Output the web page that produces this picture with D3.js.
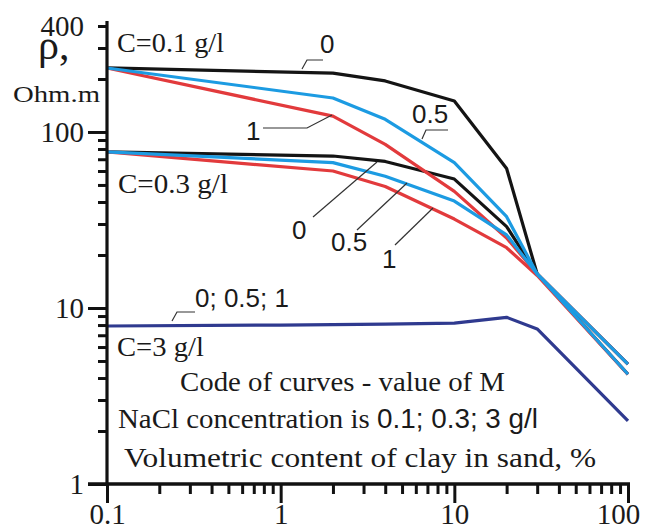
<!DOCTYPE html>
<html>
<head>
<meta charset="utf-8">
<script src="https://cdn.jsdelivr.net/npm/d3@7"></script>
<style>
  body { margin: 0; background: #fff; }
  svg { display: block; }
  .serif { font-family: "Liberation Serif", "Times New Roman", serif; fill: #1a1a1a; }
  .sans { font-family: "Liberation Sans", Arial, sans-serif; fill: #1a1a1a; }
</style>
</head>
<body>
<div id="chart"></div>
<script>
// clay content, % (x) and resistivity, Ohm.m (y)
var clayX = [0.1, 2, 4, 10, 20, 30, 100];

// C = 0.1 g/l
var c01_M0   = [231, 216, 195, 150, 62, 15.6, 4.8];
var c01_M05  = [231, 156, 118, 67, 33, 15.6, 4.8];
var c01_M1   = [231, 123, 85, 46, 25, 15.6, 4.8];

// C = 0.3 g/l
var c03_M0   = [77, 73, 68, 54, 29, 15.6, 4.2];
var c03_M05  = [77, 67, 56, 40.5, 26, 15.6, 4.2];
var c03_M1   = [77, 60, 49, 32, 22, 15.3, 4.2];

// C = 3 g/l (all M coincide)
var clayX3   = [0.1, 1, 4, 10, 20, 30, 100];
var c3_all   = [7.9, 8.0, 8.1, 8.2, 8.85, 7.6, 2.28];

var xMajor = [0.1, 1, 10, 100];
var xMinor = [0.2,0.3,0.4,0.5,0.6,0.7,0.8,0.9, 2,3,4,5,6,7,8,9, 20,30,40,50,60,70,80,90];
var yMajor = [1, 10, 100];
var yMinor = [2,3,4,5,6,7,8,9, 20,30,40,50,60,70,80,90, 200,300,400];
var yLabels = [1, 10, 100, 400];

var W = 652, H = 531;
var svg = d3.select('#chart').append('svg').attr('width', W).attr('height', H);

var x = d3.scaleLog().domain([0.1, 100]).range([107, 628]);
var y = d3.scaleLog().domain([1, 400]).range([484, 26]);

var colBlack = '#141414', colBlue = '#1c9be2', colRed = '#e23a3c', colNavy = '#2f3a8f';

var series = [
    {xs: clayX, ys: c01_M0,  color: colBlack},
    {xs: clayX, ys: c03_M0,  color: colBlack},
    {xs: clayX, ys: c01_M1,  color: colRed},
    {xs: clayX, ys: c03_M1,  color: colRed},
    {xs: clayX, ys: c01_M05, color: colBlue},
    {xs: clayX, ys: c03_M05, color: colBlue},
    {xs: clayX3, ys: c3_all, color: colNavy}
];

var line = d3.line().x(function(d){ return x(d[0]); }).y(function(d){ return y(d[1]); });

svg.selectAll('path.curve').data(series).enter()
    .append('path').attr('class', 'curve')
    .attr('d', function(s){ return line(s.xs.map(function(v,i){ return [v, s.ys[i]]; })); })
    .attr('fill', 'none')
    .attr('stroke', function(s){ return s.color; })
    .attr('stroke-width', 3.2)
    .attr('stroke-linejoin', 'round');

// axes
function styleAxis(g){
    g.select('.domain').remove();
    g.selectAll('line').attr('stroke', '#111').attr('stroke-width', 3);
}
svg.append('g').attr('transform', 'translate(107,0)')
    .call(d3.axisLeft(y).tickValues(yMinor).tickSize(9).tickFormat(''))
    .call(styleAxis);
svg.append('g').attr('transform', 'translate(107,0)')
    .call(d3.axisLeft(y).tickValues(yMajor).tickSize(19).tickFormat(''))
    .call(styleAxis);
svg.append('g').attr('transform', 'translate(107,0)')
    .call(d3.axisLeft(y).tickValues(yLabels).tickSize(0).tickPadding(23).tickFormat(d3.format('d')))
    .call(function(g){ g.select('.domain').remove(); })
    .selectAll('text').attr('class', 'serif').attr('font-size', 29).attr('fill', '#1a1a1a');

svg.append('g').attr('transform', 'translate(0,484)')
    .call(d3.axisBottom(x).tickValues(xMinor).tickSize(10).tickFormat(''))
    .call(styleAxis);
svg.append('g').attr('transform', 'translate(0,484)')
    .call(d3.axisBottom(x).tickValues(xMajor).tickSize(19).tickFormat(''))
    .call(styleAxis);
svg.append('g').attr('transform', 'translate(0,484)')
    .call(d3.axisBottom(x).tickValues(xMajor).tickSize(0).tickPadding(19).tickFormat(function(d){ return d < 1 ? '0.1' : d3.format('d')(d); }))
    .call(function(g){ g.select('.domain').remove(); })
    .selectAll('text').attr('class', 'serif').attr('font-size', 29).attr('fill', '#1a1a1a')
    .attr('dx', function(d){ return d === 100 ? -10 : 0; });

// axis lines
svg.append('line').attr('x1', 107).attr('x2', 107).attr('y1', 485.5).attr('y2', 21)
    .attr('stroke', '#111').attr('stroke-width', 3.2);
svg.append('line').attr('x1', 88).attr('x2', 630).attr('y1', 484).attr('y2', 484)
    .attr('stroke', '#111').attr('stroke-width', 3.6);

// y title
svg.append('text').attr('class', 'serif').attr('x', 38).attr('y', 59).attr('font-size', 42).text('ρ,');
svg.append('text').attr('class', 'serif').attr('x', 13).attr('y', 102).attr('font-size', 24)
    .attr('textLength', 87).attr('lengthAdjust', 'spacingAndGlyphs').text('Ohm.m');

// serif notes
var notes = [
    {t: 'C=0.1 g/l', x: 117, y: 52, fs: 27, w: 107},
    {t: 'C=0.3 g/l', x: 118, y: 193, fs: 27, w: 110},
    {t: 'C=3 g/l', x: 117, y: 356, fs: 27, w: 87},
    {t: 'Code of curves - value of M', x: 180, y: 391, fs: 28, w: 325},
    {t: 'Volumetric content of clay in sand, %', x: 124, y: 467, fs: 28, w: 472}
];
svg.selectAll('text.note').data(notes).enter().append('text')
    .attr('class', 'note serif')
    .attr('x', function(d){ return d.x; }).attr('y', function(d){ return d.y; })
    .attr('font-size', function(d){ return d.fs; })
    .attr('textLength', function(d){ return d.w; })
    .attr('lengthAdjust', 'spacingAndGlyphs')
    .text(function(d){ return d.t; });

var nacl = svg.append('text').attr('class', 'serif').attr('x', 118).attr('y', 428).attr('font-size', 28)
    .attr('textLength', 420).attr('lengthAdjust', 'spacingAndGlyphs');
nacl.append('tspan').text('NaCl concentration is ');
nacl.append('tspan').attr('class', 'sans').attr('font-size', 27).text('0.1; 0.3; 3 g/l');

// curve codes with leaders
var codes = [
    {t: '0',         x: 320, y: 53,  lead: [[302,69],[307,60],[323,60]]},
    {t: '0.5',       x: 412, y: 123, lead: [[422,139],[426,130],[448,130]]},
    {t: '1',         x: 246, y: 140, lead: [[263,128],[307,128],[332,115]]},
    {t: '0',         x: 292, y: 239, lead: [[313,217],[377,162]]},
    {t: '0.5',       x: 331, y: 251, lead: [[357,230],[407,183]]},
    {t: '1',         x: 382, y: 268, lead: [[395,245],[433,208]]},
    {t: '0; 0.5; 1', x: 195, y: 307, lead: [[172,321],[177,312],[195,312]]}
];
svg.selectAll('path.lead').data(codes).enter().append('path')
    .attr('class', 'lead')
    .attr('d', function(d){ return d3.line()(d.lead); })
    .attr('fill', 'none').attr('stroke', '#333').attr('stroke-width', 1.2);
svg.selectAll('text.code').data(codes).enter().append('text')
    .attr('class', 'code sans')
    .attr('x', function(d){ return d.x; }).attr('y', function(d){ return d.y; })
    .attr('font-size', 26)
    .text(function(d){ return d.t; });
</script>
</body>
</html>
